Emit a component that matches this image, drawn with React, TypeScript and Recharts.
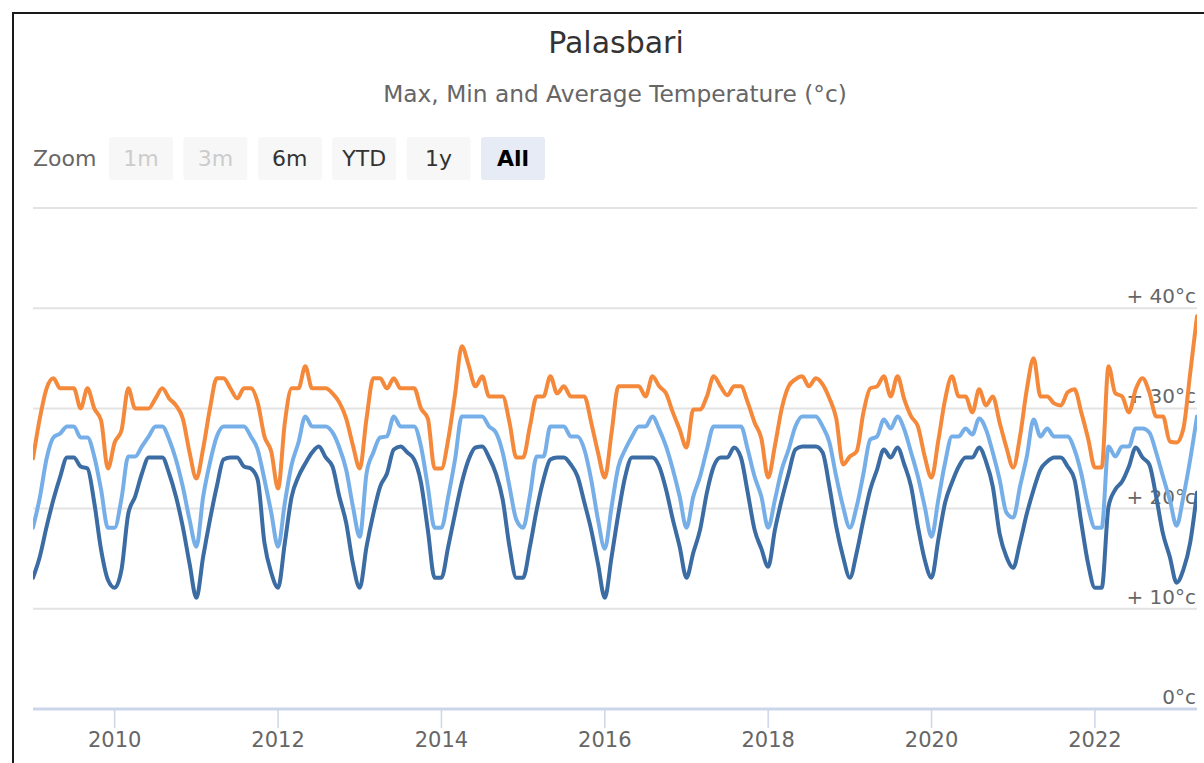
import React from "react";
import { LineChart, Line, XAxis, YAxis, CartesianGrid, ReferenceLine } from "recharts";

const startYear = 2009;

// Monthly max temperature (Jan 2009 .. Apr 2023)
const maxTemp = [
  25, 29, 32, 33, 32, 32, 32, 30, 32, 30, 28.8, 24,
  26.6, 27.8, 32, 30, 30, 30, 31, 32, 31, 30.3, 29, 25.6,
  23, 26, 30, 33, 33, 32, 31, 32, 32, 30.6, 27.2, 25.7,
  22, 28.6, 32, 32, 34.2, 32, 32, 32, 31.5, 30.6, 29, 26.3,
  24, 29, 33, 33, 32, 33, 32, 32, 32, 30, 29, 24,
  24, 26.9, 31.4, 36.2, 34.3, 32.2, 33.2, 31.2, 31.2, 31.2, 28.6, 25.1,
  25.1, 28.2, 31.2, 31.2, 33.2, 31.5, 32.2, 31.2, 31.2, 31.2, 28.6, 25.6,
  23.1, 27.6, 32.2, 32.2, 32.2, 32.2, 31.2, 33.2, 32.2, 31.5, 29.6, 27.9,
  26.1, 29.9, 29.9, 31.2, 33.2, 32.2, 31.3, 32.2, 32.2, 30.6, 28.6, 27.0,
  23.1, 26.3, 30, 32.2, 32.9, 33.2, 32.2, 33, 32.4, 31, 29, 24.4,
  25.2, 25.7, 29.6, 32, 32.2, 33.2, 31.2, 33.2, 30.9, 29.2, 28.2, 25.2,
  23.1, 26.8, 30.9, 33.2, 31.2, 31.2, 29.6, 31.9, 30.3, 31.2, 28.6, 26.1,
  24.1, 27.2, 31.9, 35, 31.2, 31.2, 30.5, 30.3, 31.6, 31.9, 29.6, 27,
  24.1, 24.1, 34.2, 31.5, 31.2, 29.6, 31.9, 33, 31.6, 29.2, 29.2, 26.7,
  26.6, 28, 33.5, 39.2,
];

// Monthly average temperature
const avgTemp = [
  18.1, 21.1, 25, 27.1, 27.5, 28.2, 28.2, 27.1, 27.1, 25.2, 21.9, 18.1,
  18.1, 21, 25.2, 25.2, 26.2, 27.2, 28.2, 28.2, 26.9, 24.9, 22.2, 18.9,
  16.2, 21.2, 24.6, 27.2, 28.2, 28.2, 28.2, 28.2, 27.2, 25.9, 22.9, 19.6,
  16.2, 20.6, 24.4, 26.6, 29.2, 28.2, 28.2, 28.2, 27.6, 26.1, 23.9, 20.2,
  17.2, 23.5, 25.6, 27.1, 27.2, 29.2, 28.2, 28.2, 28.2, 26.2, 22.2, 18.1,
  18.1, 21.2, 24.9, 29.2, 29.2, 29.2, 29.2, 28.2, 27.6, 25.6, 22.2, 18.9,
  18.1, 21.3, 25.2, 25.2, 28.2, 28.2, 28.2, 27.2, 27.2, 25.9, 22.9, 18.9,
  16.0, 20.2, 24.2, 25.9, 27.2, 28.2, 28.2, 29.2, 27.9, 26.2, 23.9, 21.2,
  18.1, 21.2, 23.2, 25.9, 28.2, 28.2, 28.2, 28.2, 28.2, 25.9, 23.2, 21.2,
  18.1, 20.9, 23.9, 25.9, 28.2, 29.2, 29.2, 29.2, 28.2, 26.6, 23.2, 20.2,
  18.1, 20.2, 23.5, 26.9, 27.2, 28.9, 28, 29.2, 27.9, 25.6, 23.2, 20.2,
  17.2, 20.9, 24.6, 27.2, 27.2, 28, 27.4, 29, 27.9, 25.6, 22.9, 19.6,
  19.1, 22.2, 25.2, 28.9, 27.2, 28, 27.2, 27.2, 27.2, 25.9, 23.5, 20.2,
  18.1, 18.1, 26.2, 25.2, 26.2, 26.2, 28, 28, 27.6, 25.6, 23.2, 20.9,
  18.3, 21.2, 24.9, 29.2,
];

// Monthly min temperature
const minTemp = [
  13.1, 15.2, 18.2, 20.9, 23.2, 25.1, 25.1, 24.2, 24, 20.6, 15.9, 12.9,
  12.1, 13.9, 19.5, 21.2, 23.5, 25.1, 25.1, 25.1, 23.5, 21.2, 18.2, 14.5,
  11.1, 15.2, 18.9, 22.2, 24.9, 25.1, 25.1, 24.2, 24, 22.9, 16.6, 13.6,
  12.1, 16.6, 21.2, 23.2, 24.5, 25.6, 26.2, 25.1, 24.2, 21.2, 18.6, 14.5,
  12.1, 16.2, 19.5, 22.2, 23.5, 25.9, 26.2, 25.6, 24.9, 22.6, 17.9, 13.1,
  13.1, 16.2, 19.5, 22.6, 24.9, 26.1, 26.2, 25.1, 23.5, 20.9, 16.2, 13.1,
  13.1, 16.2, 19.9, 22.9, 24.9, 25.1, 25.1, 24.4, 23.2, 20.6, 17.9, 14.5,
  11.1, 15.2, 19.5, 23.2, 25.1, 25.1, 25.1, 25.1, 24.2, 21.9, 18.9, 16.2,
  13.1, 15.6, 17.9, 21.6, 24.2, 25.1, 25.1, 26.1, 25.1, 21.6, 17.9, 16.0,
  14.2, 17.9, 20.9, 23.5, 25.9, 26.2, 26.2, 26.2, 25.6, 22.2, 18.2, 15.2,
  13.1, 15.6, 18.9, 21.9, 23.9, 25.9, 25.1, 26.1, 24.4, 22.2, 18.2, 14.9,
  13.1, 16.9, 20.6, 22.6, 24.2, 25.1, 25.1, 26.1, 24.7, 22.2, 17.5, 15.2,
  14.1, 16.6, 19.5, 21.9, 23.9, 24.7, 25.1, 25.1, 24.2, 22.9, 18.6, 14.5,
  12.1, 12.1, 20.2, 21.9, 22.7, 24.2, 26.1, 25.1, 24.4, 21.2, 17.5, 15.2,
  12.6, 13.9, 16.6, 21.6,
];

const xTicks = [2010, 2012, 2014, 2016, 2018, 2020, 2022];
const yTicks = [0, 10, 20, 30, 40, 50];
const yTickLabels = ["0°c", "+ 10°c", "+ 20°c", "+ 30°c", "+ 40°c", ""];

const zoomButtons = ["1m", "3m", "6m", "YTD", "1y", "All"];
const disabledButtons = ["1m", "3m"];
const selectedButton = "All";

const titleText = "Palasbari";
const subtitleText = "Max, Min and Average Temperature (°c)";

const data = maxTemp.map((v, i) => ({
  t: startYear + i / 12,
  max: v,
  avg: avgTemp[i],
  min: minTemp[i],
}));

const W = 1204;
const H = 763;
const FONT = "'DejaVu Sans', Verdana, sans-serif";
const PLOT_RIGHT = 1197;

const XTick = (props: any) => {
  const { x, y, payload } = props;
  return (
    <text x={x} y={y} dy={17} textAnchor="middle" fontSize={21} fill="#666" fontFamily={FONT}>
      {payload.value}
    </text>
  );
};

const EmptyTick = () => <g />;

const YLabel = (props: any) => {
  const { viewBox, text } = props;
  if (!viewBox) return null;
  return (
    <text
      x={viewBox.x + viewBox.width - 1}
      y={viewBox.y - 5}
      textAnchor="end"
      fontSize={20}
      fill="#666"
      fontFamily={FONT}
    >
      {text}
    </text>
  );
};

export default function App() {
  return (
    <div
      style={{
        position: "absolute",
        left: 0,
        top: 0,
        width: W,
        height: H,
        background: "#fff",
        overflow: "hidden",
        fontFamily: FONT,
      }}
    >
      <div
        style={{
          position: "absolute",
          left: 12,
          top: 12,
          width: W,
          height: H,
          borderTop: "2.5px solid #1a1a1a",
          borderLeft: "2.5px solid #1a1a1a",
        }}
      />
      <svg width={W} height={200} style={{ position: "absolute", left: 0, top: 0 }}>
        <text x={616} y={53} textAnchor="middle" fontSize={30} fill="#333" fontFamily={FONT}>
          {titleText}
        </text>
        <text x={615} y={101.5} textAnchor="middle" fontSize={23.3} fill="#666" fontFamily={FONT}>
          {subtitleText}
        </text>
        <text x={33} y={166} fontSize={22} fill="#666" fontFamily={FONT}>
          Zoom
        </text>
        {zoomButtons.map((b, i) => {
          const bx = 109 + i * 74.4;
          const disabled = disabledButtons.includes(b);
          const selected = b === selectedButton;
          return (
            <g key={b}>
              <rect
                x={bx}
                y={137}
                width={64}
                height={43}
                rx={3}
                fill={selected ? "#e6ebf5" : "#f7f7f7"}
              />
              <text
                x={bx + 32}
                y={165.5}
                textAnchor="middle"
                fontSize={22}
                fontWeight={selected ? "bold" : "normal"}
                fill={disabled ? "#cccccc" : selected ? "#000" : "#333"}
                fontFamily={FONT}
              >
                {b}
              </text>
            </g>
          );
        })}
      </svg>
      <div style={{ position: "absolute", left: 0, top: 0 }}>
        <LineChart
          width={W}
          height={H}
          data={data}
          margin={{ top: 208, right: W - PLOT_RIGHT, bottom: 0, left: 33 }}
        >
          <CartesianGrid
            vertical={false}
            stroke="#e3e3e3"
            strokeWidth={2}
            syncWithTicks
          />
          <XAxis
            dataKey="t"
            type="number"
            domain={[2009, 2023.25]}
            ticks={xTicks}
            allowDataOverflow
            height={54}
            tick={<XTick />}
            tickSize={19}
            tickLine={{ stroke: "#ccd6eb", strokeWidth: 1.5 }}
            axisLine={{ stroke: "#ccd6eb", strokeWidth: 3 }}
            interval={0}
          />
          <YAxis
            type="number"
            orientation="right"
            domain={[0, 50]}
            ticks={yTicks}
            width={0}
            axisLine={false}
            tickLine={false}
            tick={<EmptyTick />}
            interval={0}
          />
          {yTicks.map((v, i) => (
            <ReferenceLine
              key={v}
              y={v}
              stroke="none"
              label={<YLabel text={yTickLabels[i]} />}
            />
          ))}
          <Line
            type="monotone"
            dataKey="min"
            stroke="#3b6ca3"
            strokeWidth={4}
            dot={false}
            strokeLinejoin="round"
            strokeLinecap="round"
            isAnimationActive={false}
          />
          <Line
            type="monotone"
            dataKey="avg"
            stroke="#76afe8"
            strokeWidth={4}
            dot={false}
            strokeLinejoin="round"
            strokeLinecap="round"
            isAnimationActive={false}
          />
          <Line
            type="monotone"
            dataKey="max"
            stroke="#f5893b"
            strokeWidth={4}
            dot={false}
            strokeLinejoin="round"
            strokeLinecap="round"
            isAnimationActive={false}
          />
        </LineChart>
      </div>
    </div>
  );
}
